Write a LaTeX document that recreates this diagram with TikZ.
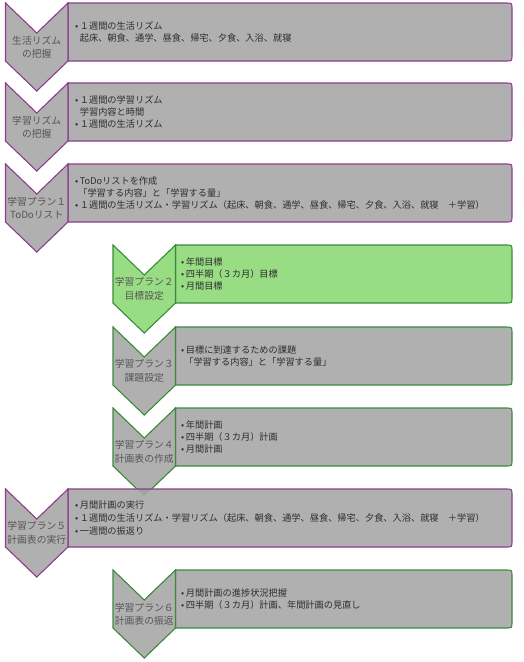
\documentclass[tikz,border=0pt]{standalone}
\usepackage{fontspec}
\setmainfont{Noto Sans CJK JP}
\definecolor{boxgray}{RGB}{176,176,176}
\definecolor{plum}{RGB}{138,62,140}
\definecolor{leaf}{RGB}{152,221,132}
\definecolor{forest}{RGB}{58,138,58}
\definecolor{labeltext}{RGB}{85,85,85}
\definecolor{bodytext}{RGB}{45,45,45}

\begin{document}
\begin{tikzpicture}[
    x=1pt, y=-1pt,
    purplebox/.style={fill=boxgray, draw=plum, line width=1.1pt, line join=miter},
    greenbox/.style={fill=boxgray, draw=forest, line width=1.1pt, line join=miter},
    activebox/.style={fill=leaf, draw=forest, line width=1.1pt, line join=miter},
    steplabel/.style={inner sep=0pt, align=center, text=labeltext, font=\fontsize{9.8pt}{13.5pt}\selectfont},
    steptext/.style={anchor=west, inner sep=0pt, align=left, text=bodytext, font=\fontsize{9.2pt}{11.8pt}\selectfont}
]
\useasboundingbox (0,0) rectangle (524,662);

% 生活リズムの把握
\draw[purplebox] (68,3) -- (506,3) .. controls (512,3) .. (512,9) -- (512,55) .. controls (512,61) .. (506,61) -- (68,61) -- cycle;
\draw[purplebox] (5.5,3) -- (36.75,33) -- (68,3) -- (68,61) -- (36.75,91) -- (5.5,61) -- cycle;
\node[steplabel] (lbl1) at (36.75,47) {生活リズム\\の把握};
\node[steptext] (txt1) at (75,32) {•\,１週間の生活リズム\\\phantom{•\,}起床、朝食、通学、昼食、帰宅、夕食、入浴、就寝};

% 学習リズムの把握
\draw[purplebox] (68,83) -- (506,83) .. controls (512,83) .. (512,89) -- (512,135) .. controls (512,141) .. (506,141) -- (68,141) -- cycle;
\draw[purplebox] (5.5,83) -- (36.75,113) -- (68,83) -- (68,141) -- (36.75,171) -- (5.5,141) -- cycle;
\node[steplabel] (lbl2) at (36.75,127) {学習リズム\\の把握};
\node[steptext] (txt2) at (75,112) {•\,１週間の学習リズム\\\phantom{•\,}学習内容と時間\\•\,１週間の生活リズム};

% 学習プラン１
\draw[purplebox] (68,164) -- (506,164) .. controls (512,164) .. (512,170) -- (512,216) .. controls (512,222) .. (506,222) -- (68,222) -- cycle;
\draw[purplebox] (5.5,164) -- (36.75,194) -- (68,164) -- (68,222) -- (36.75,252) -- (5.5,222) -- cycle;
\node[steplabel] (lbl3) at (36.75,208) {学習プラン１\\ToDoリスト};
\node[steptext] (txt3) at (75,193) {•\,ToDoリストを作成\\\phantom{•}「学習する内容」と「学習する量」\\•\,１週間の生活リズム・学習リズム（起床、朝食、通学、昼食、帰宅、夕食、入浴、就寝　＋学習）};

% 学習プラン２
\draw[activebox] (175.5,245) -- (506,245) .. controls (512,245) .. (512,251) -- (512,297) .. controls (512,303) .. (506,303) -- (175.5,303) -- cycle;
\draw[activebox] (113,245) -- (144.25,275) -- (175.5,245) -- (175.5,303) -- (144.25,333) -- (113,303) -- cycle;
\node[steplabel] (lbl4) at (144.25,289) {学習プラン２\\目標設定};
\node[steptext] (txt4) at (181,274) {•\,年間目標\\•\,四半期（３カ月）目標\\•\,月間目標};

% 学習プラン３
\draw[greenbox] (175.5,327) -- (506,327) .. controls (512,327) .. (512,333) -- (512,379) .. controls (512,385) .. (506,385) -- (175.5,385) -- cycle;
\draw[greenbox] (113,327) -- (144.25,357) -- (175.5,327) -- (175.5,385) -- (144.25,415) -- (113,385) -- cycle;
\node[steplabel] (lbl5) at (144.25,371) {学習プラン３\\課題設定};
\node[steptext] (txt5) at (181,356) {•\,目標に到達するための課題\\\phantom{•}「学習する内容」と「学習する量」};

% 学習プラン４
\draw[greenbox] (175.5,408) -- (506,408) .. controls (512,408) .. (512,414) -- (512,460) .. controls (512,466) .. (506,466) -- (175.5,466) -- cycle;
\draw[greenbox] (113,408) -- (144.25,438) -- (175.5,408) -- (175.5,466) -- (144.25,496) -- (113,466) -- cycle;
\node[steplabel] (lbl6) at (144.25,452) {学習プラン４\\計画表の作成};
\node[steptext] (txt6) at (181,437) {•\,年間計画\\•\,四半期（３カ月）計画\\•\,月間計画};

% 学習プラン５
\draw[purplebox] (68,489) -- (506,489) .. controls (512,489) .. (512,495) -- (512,541) .. controls (512,547) .. (506,547) -- (68,547) -- cycle;
\fill[black, opacity=0.08] (137.25,489) -- (144.25,496) -- (151.25,489) -- cycle;
\draw[purplebox] (5.5,489) -- (36.75,519) -- (68,489) -- (68,547) -- (36.75,577) -- (5.5,547) -- cycle;
\node[steplabel] (lbl7) at (36.75,533) {学習プラン５\\計画表の実行};
\node[steptext, font=\fontsize{9.2pt}{12.6pt}\selectfont] (txt7) at (75,518) {•\,月間計画の実行\\•\,１週間の生活リズム・学習リズム（起床、朝食、通学、昼食、帰宅、夕食、入浴、就寝　＋学習）\\•\,一週間の振返り};

% 学習プラン６
\draw[greenbox] (175.5,570) -- (506,570) .. controls (512,570) .. (512,576) -- (512,622) .. controls (512,628) .. (506,628) -- (175.5,628) -- cycle;
\draw[greenbox] (113,570) -- (144.25,600) -- (175.5,570) -- (175.5,628) -- (144.25,658) -- (113,628) -- cycle;
\node[steplabel] (lbl8) at (144.25,614) {学習プラン６\\計画表の振返};
\node[steptext] (txt8) at (181,599) {•\,月間計画の進捗状況把握\\•\,四半期（３カ月）計画、年間計画の見直し};

\end{tikzpicture}
\end{document}
